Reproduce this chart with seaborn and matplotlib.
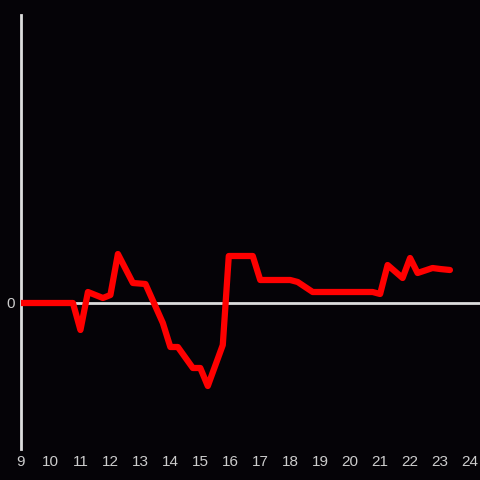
import matplotlib
matplotlib.use("Agg")
import matplotlib.pyplot as plt
import seaborn as sns
import pandas as pd

hours = [9.0, 10.75, 11.0, 11.25, 11.75, 12.0, 12.25, 12.75, 13.17, 13.75, 14.0, 14.25,
         14.75, 15.0, 15.25, 15.75, 15.95, 16.75, 17.0, 18.0, 18.25, 18.75, 20.75, 21.0,
         21.25, 21.75, 22.0, 22.25, 22.75, 23.0, 23.33]
values = [0, 0, -27, 11, 5, 8, 49, 20, 19, -20, -44, -44,
          -65, -65, -83, -42, 47, 47, 23, 23, 21, 11, 11, 9,
          38, 25, 45, 30, 35, 34, 33]
xticks = list(range(9, 25))

df = pd.DataFrame({"hour": hours, "value": values})

sns.set_theme(style="dark")
plt.rcParams['font.family'] = ['Liberation Sans', 'DejaVu Sans']

bg = "#050307"
fig = plt.figure(figsize=(4.8, 4.8), dpi=100, facecolor=bg)
ax = fig.add_axes([20.5/480, 31/480, 459.5/480, 434/480])
ax.set_facecolor(bg)

ax.axhline(0, color="#dddddd", lw=2, zorder=1)
sns.lineplot(data=df, x="hour", y="value", ax=ax, color="#ff0000", lw=4.5, zorder=3)

ax.set_xlim(9, 24.333)
ax.set_ylim(-146, 288)
ax.set_xticks(xticks)
ax.set_xticklabels([str(t) for t in xticks])
ax.set_yticks([0])
ax.set_yticklabels(["0"])
ax.tick_params(axis="both", length=0, colors="#cccccc", labelsize=11, pad=4)
ax.set_xlabel("")
ax.set_ylabel("")
ax.grid(False)
for s in ["top", "right", "bottom"]:
    ax.spines[s].set_visible(False)
ax.spines["left"].set_color("#dddddd")
ax.spines["left"].set_linewidth(2)

fig.savefig("out.png", dpi=100, facecolor=bg)
